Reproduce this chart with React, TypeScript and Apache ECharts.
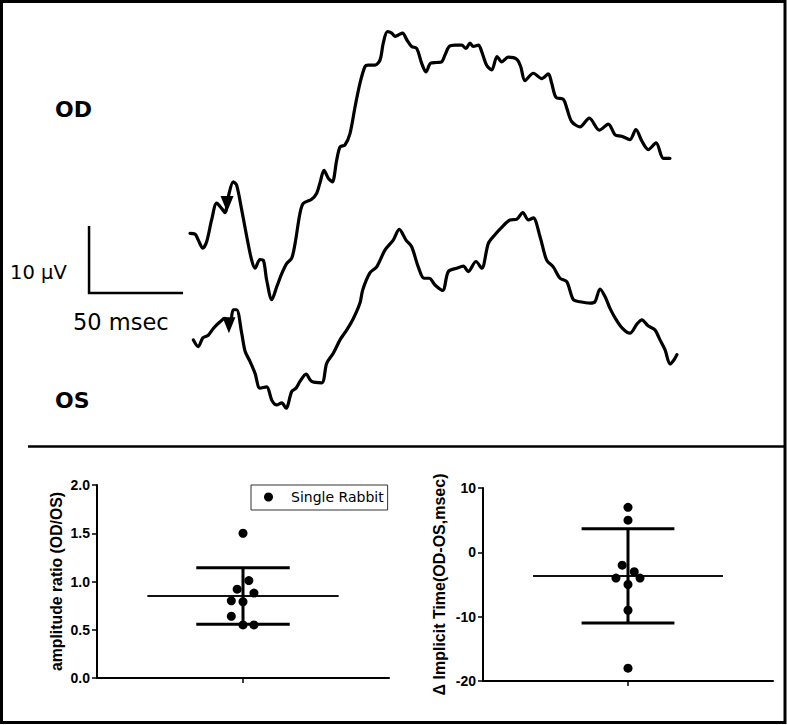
import React, { useEffect, useRef } from "react";
import * as echarts from "echarts";

// ---- ERG traces (time in msec, amplitude in µV relative to each trace's start) ----
const odTrace: [number, number][] = [
  [0, 0], [2.7, -0.1], [4.4, -1.0], [6.8, -2.2], [8.9, -1.2], [11.5, 2.0], [14.2, 4.5], [16.9, 3.7],
  [18.6, 3.1], [20.4, 5.5], [23.0, 7.7], [24.8, 7.2], [27.5, 3.5], [30.2, -0.5], [32.8, -4.0], [34.6, -5.2],
  [37.2, -3.9], [39.0, -4.0], [40.8, -7.0], [43.5, -9.9], [46.1, -8.0], [48.8, -6.0], [51.4, -4.5], [54.1, -3.7],
  [55.9, -1.5], [58.5, 3.0], [60.3, 4.5], [64.7, 5.1], [67.4, 6.0], [69.1, 7.5], [71.3, 9.4], [73.6, 8.2],
  [75.7, 7.7], [78.0, 10.9], [79.8, 12.9], [82.4, 13.2], [85.1, 14.9], [87.8, 18.9], [90.4, 22.4], [93.1, 24.9],
  [94.8, 25.1], [98.4, 25.1], [101.1, 25.9], [102.8, 28.4], [105.0, 30.1], [107.3, 29.9], [109.0, 29.4], [110.8, 29.6],
  [113.1, 29.9], [115.3, 28.9], [117.9, 27.9], [120.6, 27.6], [123.2, 25.4], [125.5, 24.1], [128.0, 25.4], [131.2, 25.5],
  [133.9, 25.6], [135.6, 26.6], [137.9, 27.9], [141.0, 28.1], [144.5, 28.1], [146.8, 27.6], [148.9, 28.4], [150.7, 27.9],
  [153.4, 28.1], [155.2, 27.1], [157.8, 25.1], [160.5, 24.4], [163.3, 26.4], [165.8, 25.6], [169.3, 26.3], [173.8, 26.0],
  [175.9, 24.9], [178.2, 22.8], [182.6, 23.9], [187.1, 23.1], [190.6, 23.8], [192.4, 22.4], [194.7, 20.3], [198.6, 20.0],
  [200.4, 18.7], [203.0, 16.7], [207.4, 15.9], [212.4, 17.2], [217.7, 15.4], [222.5, 16.3], [226.1, 14.7], [229.6, 14.5],
  [234.0, 14.0], [237.2, 15.5], [240.3, 13.8], [243.8, 12.5], [247.9, 13.5], [251.8, 11.2], [255.3, 11.2],
];

const osTrace: [number, number][] = [
  [1.8, 0], [4.4, -1.0], [6.8, 0.3], [9.7, 0.7], [12.4, 1.7], [16.0, 2.7], [18.6, 3.2], [21.3, 2.5],
  [23.0, 4.5], [24.8, 4.5], [27.5, 1.0], [29.3, -1.7], [31.9, -3.2], [34.6, -5.0], [37.2, -7.2], [40.8, -7.0],
  [43.5, -9.0], [46.1, -9.7], [48.8, -9.4], [51.1, -10.2], [54.1, -7.7], [56.4, -7.2], [58.5, -6.2], [61.7, -5.1],
  [64.7, -6.2], [70.1, -6.4], [72.7, -3.5], [76.2, -2.0], [79.8, 0], [83.4, 1.5], [86.9, 3.2], [90.4, 5.5],
  [91.9, 7.5], [95.7, 10.0], [99.3, 10.9], [103.7, 13.4], [108.1, 14.9], [111.3, 16.5], [114.9, 14.9], [117.9, 13.9],
  [121.4, 10.9], [124.5, 9.2], [127.3, 9.2], [130.3, 8.2], [134.4, 7.4], [137.4, 10.2], [141.9, 10.7], [145.4, 11.0],
  [148.0, 10.2], [152.1, 11.7], [155.2, 10.7], [158.7, 14.4], [162.2, 15.7], [165.8, 16.8], [170.2, 17.9], [173.8, 18.0],
  [177.0, 19.0], [180.0, 17.9], [182.6, 18.2], [186.2, 15.4], [189.7, 11.9], [193.2, 10.9], [196.8, 9.2], [200.4, 8.7],
  [203.9, 6.0], [207.4, 5.7], [212.8, 5.5], [215.4, 5.7], [218.1, 7.6], [220.7, 6.5], [223.4, 4.7], [226.1, 3.3],
  [229.8, 1.8], [234.0, 1.0], [237.8, 2.4], [240.4, 3.0], [243.6, 2.1], [247.3, 1.5], [250.0, 0], [252.7, -1.5],
  [255.3, -3.6], [257.4, -3.0], [259.0, -2.2],
];

// arrow markers [msec, µV relative]
const odArrow: [number, number] = [19.7, 4.4];
const osArrow: [number, number] = [20.7, 2.2];

// scale bar: 50 msec, 10 µV
const scaleBarMs = 50;
const scaleBarUv = 10;

// ---- group data ----
const ampRatio = [1.5, 1.01, 0.92, 0.88, 0.8, 0.79, 0.64, 0.55, 0.55];
const ampJitter = [1, 1.04, 0.96, 1.075, 0.92, 1, 0.92, 1, 1.075];
const implicitDelta = [7, 5, -2, -3, -4, -4, -5, -9, -18];
const implicitJitter = [1, 1, 0.96, 1.043, 0.917, 1.083, 1, 1, 1];

const ampTicks = [0, 0.5, 1.0, 1.5, 2.0];
const implicitTicks = [-20, -10, 0, 10];

// layout constants
const OD_OFFSET = 8.9;
const OS_OFFSET = -7.0;
const SCALE_X0 = -53.7;
const MEAN_HALF = 0.655;
const CAP_HALF = 0.32;

const mean = (a: number[]) => a.reduce((s, v) => s + v, 0) / a.length;
const sd = (a: number[]) => {
  const m = mean(a);
  return Math.sqrt(a.reduce((s, v) => s + (v - m) * (v - m), 0) / (a.length - 1));
};

const FONT = "DejaVu Sans";
const AXFONT = "Liberation Sans";

function statSeries(values: number[], axisIdx: number) {
  const m = mean(values);
  const s = sd(values);
  const base = {
    type: "line" as const,
    xAxisIndex: axisIdx,
    yAxisIndex: axisIdx,
    showSymbol: false,
    symbol: "none",
    silent: true,
    lineStyle: { color: "#000", width: 3, cap: "butt" as const },
  };
  return [
    { ...base, data: [[1 - MEAN_HALF, m], [1 + MEAN_HALF, m]], lineStyle: { color: "#111", width: 2 } },
    { ...base, data: [[1 - CAP_HALF, m + s], [1 + CAP_HALF, m + s]] },
    { ...base, data: [[1 - CAP_HALF, m - s], [1 + CAP_HALF, m - s]] },
    { ...base, data: [[1, m + s], [1, m - s]] },
  ];
}

export default function App() {
  const ref = useRef<HTMLDivElement>(null);

  useEffect(() => {
    if (!ref.current) return;
    const chart = echarts.init(ref.current, null, { renderer: "svg" });

    const bottomX = (gridIndex: number) => ({
      gridIndex,
      type: "value",
      min: 0,
      max: 2,
      axisLine: { show: true, onZero: false, lineStyle: { color: "#000", width: 2 } },
      axisTick: { show: true, customValues: [1], length: 5, lineStyle: { color: "#000", width: 1.5 } },
      axisLabel: { show: false },
      splitLine: { show: false },
    });

    const bottomY = (gridIndex: number, min: number, max: number, interval: number, name: string, fs: number, gap: number, fmt: (v: number) => string) => ({
      gridIndex,
      type: "value",
      min,
      max,
      interval,
      name,
      nameLocation: "middle",
      nameRotate: 90,
      nameGap: gap,
      nameTextStyle: { fontFamily: AXFONT, fontWeight: "bold", fontSize: fs, color: "#000" },
      axisLine: { show: true, onZero: false, lineStyle: { color: "#000", width: 2 } },
      axisTick: { show: true, length: 5, lineStyle: { color: "#000", width: 1.5 } },
      axisLabel: { fontFamily: AXFONT, fontWeight: "bold", fontSize: 14, color: "#000", margin: 7, formatter: fmt },
      splitLine: { show: false },
    });

    const option: any = {
      animation: false,
      backgroundColor: "#fff",
      grid: [
        { left: 77.2, top: 4.9, width: 605.36, height: 415.4 },
        { left: 97, top: 485, width: 292, height: 193 },
        { left: 483, top: 488, width: 290, height: 193 },
      ],
      xAxis: [
        { gridIndex: 0, type: "value", min: -60, max: 262, show: false, splitLine: { show: false } },
        bottomX(1),
        bottomX(2),
      ],
      yAxis: [
        { gridIndex: 0, type: "value", min: -19, max: 43, show: false, splitLine: { show: false } },
        bottomY(1, ampTicks[0], ampTicks[ampTicks.length - 1], ampTicks[1] - ampTicks[0], "amplitude ratio (OD/OS)", 15.8, 33, (v: number) => v.toFixed(1)),
        bottomY(2, implicitTicks[0], implicitTicks[implicitTicks.length - 1], implicitTicks[1] - implicitTicks[0], "Δ Implicit Time(OD-OS,msec)", 16, 36, (v: number) => String(v)),
      ],
      legend: {
        data: [{ name: "Single Rabbit", icon: "circle", itemStyle: { color: "#000", opacity: 1 } }],
        left: 251,
        top: 485,
        orient: "vertical",
        itemWidth: 9,
        itemHeight: 9,
        padding: [5, 4, 6, 13],
        borderColor: "#333",
        borderWidth: 1,
        textStyle: { fontFamily: FONT, fontSize: 14, color: "#000", padding: [0, 0, 0, 13] },
        selectedMode: false,
      },
      graphic: [
        { type: "rect", silent: true, shape: { x: 1.5, y: 1.5, width: 783.5, height: 721 }, style: { fill: "none", stroke: "#000", lineWidth: 3 } },
        { type: "line", silent: true, shape: { x1: 28, y1: 446.5, x2: 785, y2: 446.5 }, style: { stroke: "#000", lineWidth: 2.5 } },
        { type: "text", x: 55, y: 109, style: { text: "OD", fontFamily: FONT, fontWeight: "bold", fontSize: 22, fill: "#000", verticalAlign: "middle" } },
        { type: "text", x: 55, y: 400, style: { text: "OS", fontFamily: FONT, fontWeight: "bold", fontSize: 22, fill: "#000", verticalAlign: "middle" } },
        { type: "text", x: 10, y: 272.5, style: { text: `${scaleBarUv} μV`, fontFamily: FONT, fontSize: 19.5, fill: "#000", verticalAlign: "middle" } },
        { type: "text", x: 73, y: 321.7, style: { text: `${scaleBarMs} msec`, fontFamily: FONT, fontSize: 22.5, fill: "#000", verticalAlign: "middle" } },
      ],
      series: [
        {
          type: "line", xAxisIndex: 0, yAxisIndex: 0, silent: true, showSymbol: false, symbol: "none", smooth: 0.3,
          data: odTrace.map(([t, v]) => [t, v + OD_OFFSET]),
          lineStyle: { color: "#000", width: 3.2, join: "round", cap: "round" },
        },
        {
          type: "line", xAxisIndex: 0, yAxisIndex: 0, silent: true, showSymbol: false, symbol: "none", smooth: 0.3,
          data: osTrace.map(([t, v]) => [t, v + OS_OFFSET]),
          lineStyle: { color: "#000", width: 3.2, join: "round", cap: "round" },
        },
        {
          type: "line", xAxisIndex: 0, yAxisIndex: 0, silent: true, showSymbol: false, symbol: "none",
          data: [[SCALE_X0, scaleBarUv], [SCALE_X0, 0], [SCALE_X0 + scaleBarMs, 0]],
          lineStyle: { color: "#000", width: 2.5, join: "miter" },
        },
        {
          type: "scatter", xAxisIndex: 0, yAxisIndex: 0, silent: true, z: 5,
          symbol: "triangle", symbolRotate: 180, symbolSize: [13, 16],
          itemStyle: { color: "#000", opacity: 1 },
          data: [[odArrow[0], odArrow[1] + OD_OFFSET], [osArrow[0], osArrow[1] + OS_OFFSET]],
        },
        ...statSeries(ampRatio, 1),
        ...statSeries(implicitDelta, 2),
        {
          name: "Single Rabbit", type: "scatter", xAxisIndex: 1, yAxisIndex: 1, symbolSize: 9, z: 5,
          itemStyle: { color: "#000", opacity: 1 },
          data: ampRatio.map((v, i) => [ampJitter[i], v]),
        },
        {
          name: "Single Rabbit (Δ)", type: "scatter", xAxisIndex: 2, yAxisIndex: 2, symbolSize: 9, z: 5,
          itemStyle: { color: "#000", opacity: 1 },
          data: implicitDelta.map((v, i) => [implicitJitter[i], v]),
        },
      ],
    };

    chart.setOption(option);
    return () => chart.dispose();
  }, []);

  return (
    <div
      ref={ref}
      style={{ position: "fixed", left: 0, top: 0, width: 787, height: 725, background: "#fff" }}
    />
  );
}
